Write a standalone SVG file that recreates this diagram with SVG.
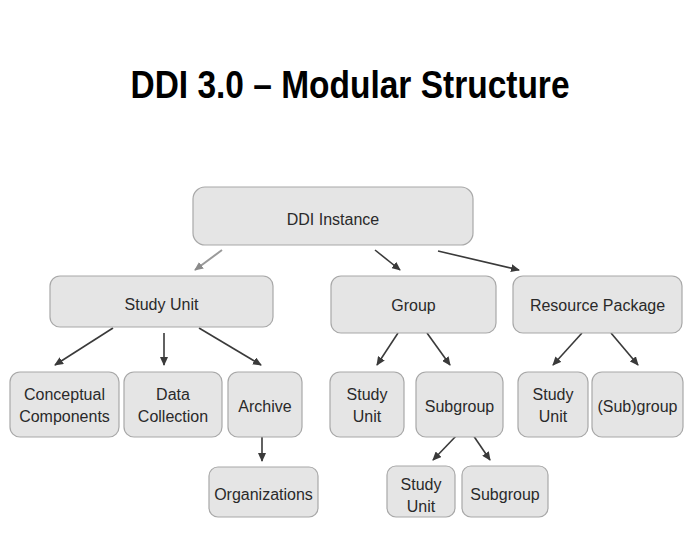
<svg xmlns="http://www.w3.org/2000/svg" width="685" height="552" viewBox="0 0 685 552">
<style>
.box{fill:#e5e5e5;stroke:#a8a8a8;stroke-width:1.2}
.lbl{font-family:"Liberation Sans",Arial,sans-serif;font-size:16px;fill:#2a2a2a;text-anchor:middle}
.title{font-family:"Liberation Sans",Arial,sans-serif;font-size:39px;font-weight:bold;fill:#000;text-anchor:middle}
.c{stroke:#3a3a3a;stroke-width:1.6;fill:none;marker-end:url(#ah)}
.cl{stroke:#9a9a9a;stroke-width:2;fill:none;marker-end:url(#ahl)}
</style>
<defs>
<marker id="ah" markerUnits="userSpaceOnUse" markerWidth="10" markerHeight="8" refX="8" refY="4" orient="auto"><path d="M0,0 L9,4 L0,8 Z" fill="#3a3a3a"/></marker>
<marker id="ahl" markerUnits="userSpaceOnUse" markerWidth="10" markerHeight="8" refX="8" refY="4" orient="auto"><path d="M0,0 L9,4 L0,8 Z" fill="#8a8a8a"/></marker>
</defs>
<rect width="685" height="552" fill="#fff"/>
<text class="title" x="350" y="98" textLength="439" lengthAdjust="spacingAndGlyphs">DDI 3.0 – Modular Structure</text>

<g id="connectors">
<line class="cl" x1="222" y1="250" x2="195" y2="270"/>
<line class="c" x1="375" y1="250" x2="400" y2="270"/>
<line class="c" x1="438" y1="251" x2="519" y2="270"/>
<line class="c" x1="113" y1="328" x2="55" y2="365"/>
<line class="c" x1="164" y1="333" x2="164" y2="365"/>
<line class="c" x1="199" y1="328" x2="261" y2="365"/>
<line class="c" x1="262" y1="436" x2="262" y2="461"/>
<line class="c" x1="398" y1="333" x2="377" y2="365"/>
<line class="c" x1="427" y1="333" x2="450" y2="365"/>
<line class="c" x1="582" y1="333" x2="553" y2="365"/>
<line class="c" x1="611" y1="333" x2="638" y2="365"/>
<line class="c" x1="457" y1="435" x2="433" y2="460"/>
<line class="c" x1="473" y1="435" x2="490" y2="460"/>
</g>

<g id="ddi-instance"><rect class="box" x="193" y="187" width="280" height="58" rx="12"/><text class="lbl" x="333" y="225">DDI Instance</text></g>
<g id="study-unit"><rect class="box" x="50" y="276" width="223" height="51" rx="10"/><text class="lbl" x="161.5" y="310">Study Unit</text></g>
<g id="group"><rect class="box" x="331" y="276" width="165" height="57" rx="10"/><text class="lbl" x="413.5" y="311">Group</text></g>
<g id="resource-package"><rect class="box" x="513" y="276" width="169" height="57" rx="10"/><text class="lbl" x="597.5" y="311">Resource Package</text></g>

<g id="conceptual-components"><rect class="box" x="10" y="372" width="109" height="65" rx="10"/><text class="lbl" x="64.5" y="400">Conceptual</text><text class="lbl" x="64.5" y="422">Components</text></g>
<g id="data-collection"><rect class="box" x="124" y="372" width="98" height="65" rx="10"/><text class="lbl" x="173" y="400">Data</text><text class="lbl" x="173" y="422">Collection</text></g>
<g id="archive"><rect class="box" x="228" y="372" width="74" height="65" rx="10"/><text class="lbl" x="265" y="412">Archive</text></g>
<g id="organizations"><rect class="box" x="209" y="467" width="109" height="50" rx="9"/><text class="lbl" x="263.5" y="500">Organizations</text></g>

<g id="group-study-unit"><rect class="box" x="330" y="372" width="74" height="65" rx="10"/><text class="lbl" x="367" y="400">Study</text><text class="lbl" x="367" y="422">Unit</text></g>
<g id="subgroup"><rect class="box" x="416" y="372" width="87" height="65" rx="10"/><text class="lbl" x="459.5" y="412">Subgroup</text></g>
<g id="rp-study-unit"><rect class="box" x="518" y="372" width="70" height="65" rx="10"/><text class="lbl" x="553" y="400">Study</text><text class="lbl" x="553" y="422">Unit</text></g>
<g id="rp-subgroup"><rect class="box" x="592" y="372" width="91" height="65" rx="10"/><text class="lbl" x="637.5" y="412">(Sub)group</text></g>

<g id="sub-study-unit"><rect class="box" x="387" y="466" width="68" height="51" rx="9"/><text class="lbl" x="421" y="490">Study</text><text class="lbl" x="421" y="512">Unit</text></g>
<g id="sub-subgroup"><rect class="box" x="462" y="466" width="86" height="51" rx="9"/><text class="lbl" x="505" y="500">Subgroup</text></g>
</svg>
